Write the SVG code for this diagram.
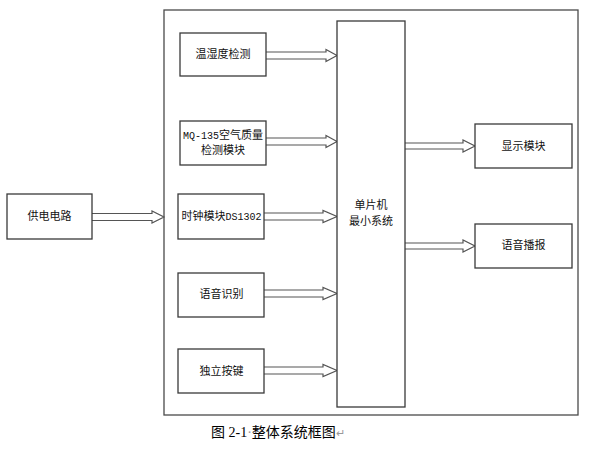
<svg xmlns="http://www.w3.org/2000/svg" width="599" height="449" viewBox="0 0 599 449">
<style>
.box{fill:#fff;stroke:#3a3a3a;stroke-width:1.3}
.frame{fill:none;stroke:#4a4a4a;stroke-width:1.3}
.arr{fill:#fff;stroke:#555;stroke-width:1.2;stroke-linejoin:miter}
.t{font-family:"Liberation Mono","Noto Sans CJK SC",monospace;font-size:11px;fill:#111;text-anchor:middle;dominant-baseline:central}
.lat{font-size:10px}
.cap{font-family:"Liberation Serif","Noto Sans CJK SC",serif;font-size:14px;fill:#000}
</style>
<rect width="599" height="449" fill="#fff"/>
<rect class="frame" x="164" y="10" width="414" height="405"/>
<g id="connectors">
<path class="arr" d="M92,213.5H152V211L164,217L152,223V220.5H92"/>
<path class="arr" d="M266,52H326V49.5L337,55.5L326,61.5V59H266"/>
<path class="arr" d="M266,138H326V135.5L337,141.5L326,147.5V145H266"/>
<path class="arr" d="M264,213H323V210.5L337,216.5L323,222.5V220H264"/>
<path class="arr" d="M264,290H323V287.5L337,293.5L323,299.5V297H264"/>
<path class="arr" d="M264,367H323V364.5L337,370.5L323,376.5V374H264"/>
<path class="arr" d="M405,143H463V140L475,146L463,152V149H405"/>
<path class="arr" d="M405,243H463V240L475,246L463,252V249H405"/>
</g>
<g id="power"><rect class="box" x="7" y="194" width="85" height="45"/><text class="t" x="49.5" y="217">供电电路</text></g>
<g id="temp"><rect class="box" x="180" y="33" width="86" height="43"/><text class="t" x="223" y="55">温湿度检测</text></g>
<g id="mq135"><rect class="box" x="180" y="121" width="86" height="44"/><text class="t" x="223" y="136"><tspan class="lat">MQ-135</tspan>空气质量</text><text class="t" x="223" y="151">检测模块</text></g>
<g id="clock"><rect class="box" x="178" y="194" width="86" height="45"/><text class="t" x="221.5" y="216.5">时钟模块<tspan class="lat">DS1302</tspan></text></g>
<g id="voicerec"><rect class="box" x="178" y="273" width="86" height="44"/><text class="t" x="221.5" y="295">语音识别</text></g>
<g id="keys"><rect class="box" x="178" y="349" width="86" height="44"/><text class="t" x="221.5" y="372">独立按键</text></g>
<g id="mcu"><rect class="box" x="337" y="21" width="68" height="386"/><text class="t" x="371" y="206">单片机</text><text class="t" x="371" y="222">最小系统</text></g>
<g id="display"><rect class="box" x="475" y="124" width="97" height="44"/><text class="t" x="523.5" y="146.5">显示模块</text></g>
<g id="voiceout"><rect class="box" x="475" y="224" width="97" height="44"/><text class="t" x="523.5" y="246">语音播报</text></g>
<text class="cap" x="211" y="437">图 2-1<tspan fill="#999">·</tspan>整体系统框图<tspan fill="#999" font-size="11">↵</tspan></text>
</svg>
